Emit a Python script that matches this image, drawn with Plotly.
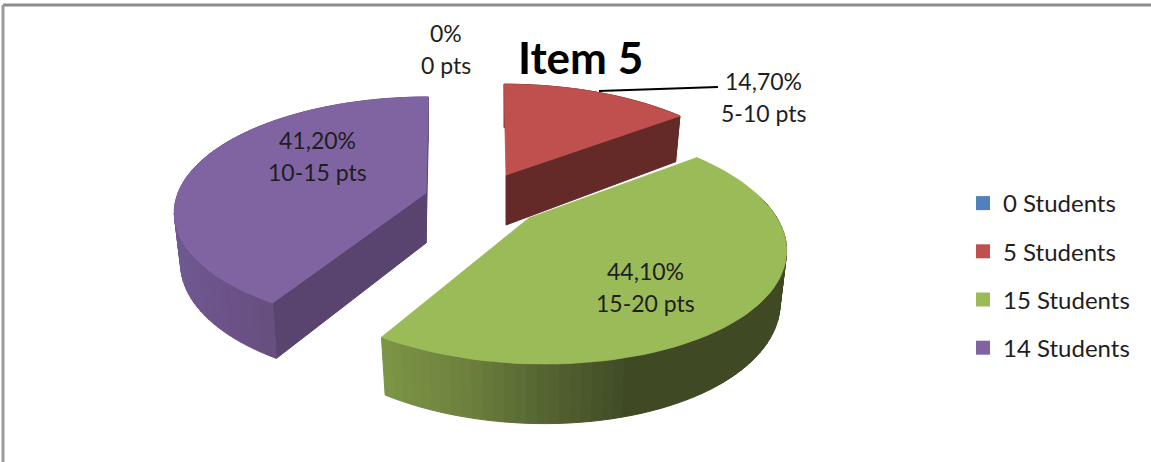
import math
import plotly.graph_objects as go

# ---- data ----
students = [0, 5, 15, 14]
percent = [0.0, 14.7, 44.1, 41.2]
pct_labels = ["0%", "14,70%", "44,10%", "41,20%"]
pts_labels = ["0 pts", "5-10 pts", "15-20 pts", "10-15 pts"]
legend_names = [f"{n} Students" for n in students]
title_text = "Item 5"

# ---- styles / geometry of the 3-D look ----
colors = ["#4F81BD", "#C0504D", "#9BBB59", "#8064A2"]
cut_wall = [None, "#632A28", "#3F4A25", "#59446F"]
apex = [None, (506, 175), (529, 218), (426, 193)]       # exploded slice tips (px)
rx = [None, 249, 248, 248]
ry = [None, 111, 113.6, 111.5]
persp = [None, 0.222, 0.222, 0.161]
vx = [None, 495, 473, 442]
wall_from = [None, 0, 80, 0]
label_pos = [(446, 33), (763, 81), (645, 271), (317, 140)]
wall_stops = {
    1: [(0, "#632A28"), (1151, "#632A28")],
    2: [(382, "#7C9546"), (470, "#6C7F3C"), (540, "#566632"), (630, "#3F4A25"), (1151, "#3F4A25")],
    3: [(170, "#6F5A92"), (230, "#6B5186"), (275, "#65507F"), (1151, "#65507F")],
}
DEPTH = 50


def hex2rgb(h):
    return tuple(int(h[i:i + 2], 16) for i in (1, 3, 5))


def ramp(stops, x):
    for (x0, c0), (x1, c1) in zip(stops, stops[1:]):
        if x <= x1:
            f = max(0, (x - x0) / (x1 - x0))
            a, b = hex2rgb(c0), hex2rgb(c1)
            return "rgb(%d,%d,%d)" % tuple(round(p + (q - p) * f) for p, q in zip(a, b))
    return stops[-1][1]


def top_pt(i, deg):
    tip = apex[i]
    t = math.radians(deg)
    u, v = math.sin(t), math.cos(t)
    s = 1 / (1 + persp[i] * v)
    return tip[0] + rx[i] * u * s + (tip[0] - vx[i]) * (s - 1), tip[1] - ry[i] * v * s, s


def bottom_pt(i, deg):
    tip = apex[i]
    x, y, s = top_pt(i, deg)
    return tip[0] + (x - tip[0]) * 0.975, y + DEPTH * s ** 0.7


def poly(xs, ys, color, lw=1):
    return go.Scatter(x=xs, y=ys, mode="lines", fill="toself", fillcolor=color,
                      line=dict(color=color, width=lw), hoverinfo="skip", showlegend=False)


fig = go.Figure()
cum = 0.0
spans = []
for p in percent:
    spans.append((cum * 3.6, (cum + p) * 3.6))
    cum += p

for i in (3, 1, 2):
    a0, a1 = spans[i]
    tip = apex[i]
    n = max(2, int((a1 - a0) / 2))
    degs = [a0 + (a1 - a0) * j / n for j in range(n + 1)]
    base = (tip[0], tip[1] + DEPTH)
    # cut walls seen from the front
    for deg in ((a1,) if i == 1 else (a0, a1) if i == 3 else ()):
        x0, y0, _ = top_pt(i, deg)
        x1, y1 = bottom_pt(i, deg)
        fig.add_trace(poly([tip[0], x0, x1, base[0], tip[0]],
                           [tip[1], y0, y1, base[1], tip[1]], cut_wall[i]))
    # curved outer wall, in short strips for the shading
    for d0, d1 in zip(degs, degs[1:]):
        if d1 < wall_from[i]:
            continue
        xa, ya, _ = top_pt(i, d0)
        xb, yb, _ = top_pt(i, d1)
        xc, yc = bottom_pt(i, d1)
        xd, yd = bottom_pt(i, d0)
        col = ramp(wall_stops[i], (xa + xb) / 2)
        fig.add_trace(poly([xa, xb, xc, xd, xa], [ya, yb, yc, yd, ya], col))
    # the flat top
    pts = [top_pt(i, d) for d in degs]
    fig.add_trace(poly([tip[0]] + [q[0] for q in pts] + [tip[0]],
                       [tip[1]] + [q[1] for q in pts] + [tip[1]], colors[i], lw=0.8))

# legend entries
for name, col in zip(legend_names, colors):
    fig.add_trace(go.Scatter(x=[None], y=[None], mode="markers", name=name, legendgroup=name,
                             marker=dict(symbol="square", size=14, color=col)))

# leader line of the 14,70% label
fig.add_shape(type="line", x0=599, y0=91, x1=718, y1=87, line=dict(color="#000000", width=2))
# chart frame (top and left edge only are in the crop)
fig.add_shape(type="line", x0=3, y0=5, x1=1151, y1=5, line=dict(color="#8C8C8C", width=3))
fig.add_shape(type="line", x0=3, y0=5, x1=3, y1=462, line=dict(color="#9A9A9A", width=3))

TXT = dict(family="Lato, 'Noto Sans', sans-serif", size=23, color="#1E1E1E")
for (x, y), a, b in zip(label_pos, pct_labels, pts_labels):
    fig.add_annotation(x=x, y=y, text=a, showarrow=False, font=TXT, xanchor="center", yanchor="middle")
    fig.add_annotation(x=x, y=y + 32, text=b, showarrow=False, font=TXT, xanchor="center", yanchor="middle")
fig.add_annotation(x=580, y=57, text=f"<b>{title_text}</b>", showarrow=False,
                   font=dict(family="Lato, 'Noto Sans', sans-serif", size=44, color="#000000"),
                   xanchor="center", yanchor="middle")

fig.update_layout(
    width=1151, height=462, margin=dict(l=0, r=0, t=0, b=0),
    paper_bgcolor="#FFFFFF", plot_bgcolor="#FFFFFF",
    xaxis=dict(range=[0, 1151], visible=False, fixedrange=True),
    yaxis=dict(range=[462, 0], visible=False, fixedrange=True),
    legend=dict(x=963 / 1151, y=1 - 181 / 462, xanchor="left", yanchor="top",
                font=dict(family="Lato, 'Noto Sans', sans-serif", size=24, color="#1E1E1E"),
                tracegroupgap=14, bgcolor="rgba(0,0,0,0)", itemclick=False, itemdoubleclick=False),
)
fig.write_html("out.html", config=dict(displayModeBar=False),
               post_script="document.body.style.margin='0';")
